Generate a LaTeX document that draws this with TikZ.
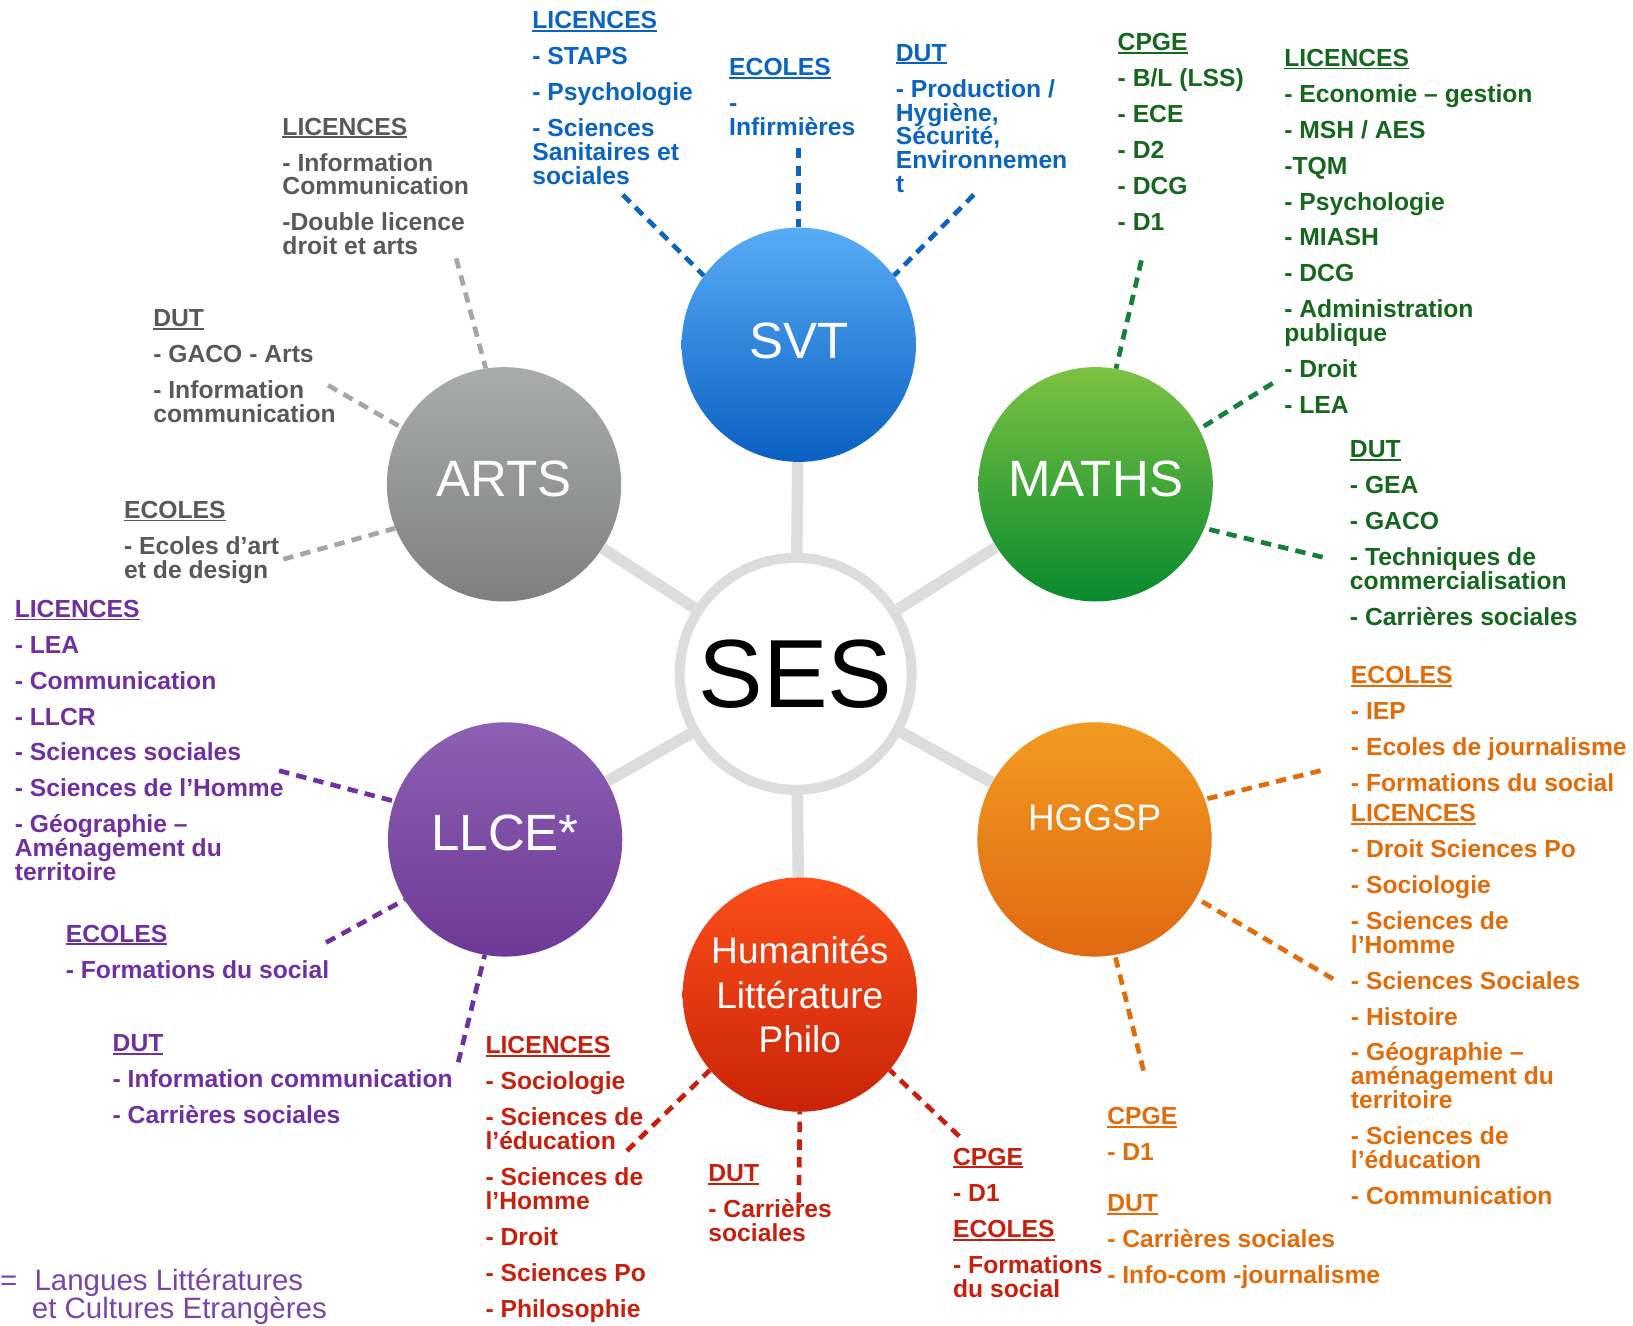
\documentclass[tikz,border=0pt]{standalone}
\usepackage{fontspec}
\setmainfont{Liberation Sans}
\definecolor{svtT}{HTML}{0A64C0}
\definecolor{svtA}{HTML}{58ACF6}
\definecolor{svtB}{HTML}{0A60C2}
\definecolor{matT}{HTML}{16671E}
\definecolor{matD}{HTML}{14803A}
\definecolor{matA}{HTML}{7CC242}
\definecolor{matB}{HTML}{078A2E}
\definecolor{artT}{HTML}{595959}
\definecolor{artD}{HTML}{A6A6A6}
\definecolor{artA}{HTML}{AAACAC}
\definecolor{artB}{HTML}{7F7F7F}
\definecolor{llcT}{HTML}{7030A0}
\definecolor{llcF}{HTML}{7A45A8}
\definecolor{llcA}{HTML}{8D60B3}
\definecolor{llcB}{HTML}{6E3996}
\definecolor{hgT}{HTML}{E36C0A}
\definecolor{hgA}{HTML}{F29B20}
\definecolor{hgB}{HTML}{E06912}
\definecolor{huT}{HTML}{C8200E}
\definecolor{huA}{HTML}{FC4E1A}
\definecolor{huB}{HTML}{C92408}
\definecolor{ringc}{HTML}{DCDDDF}
\newcommand\blkfont{\bfseries\fontsize{23.7}{23}\selectfont\lineskiplimit=-30pt\lineskip=0pt}
\newcommand\footfont{\fontsize{28.3}{27}\selectfont\lineskiplimit=-30pt\lineskip=0pt}
\newcommand\hd[1]{\setbox0\hbox{#1}\rlap{\rule[-3pt]{\wd0}{1.8pt}}\box0}
\newcommand\nx{\\[11.5pt]}
\newcommand\blk[5]{\node[blk,text=#2] (#1) at (#3,#4-13.5) {\rule{0pt}{22pt}#5};}
\tikzset{
  blk/.style={anchor=north west, inner sep=0pt, align=left, font=\blkfont},
  bub/.style={circle, minimum size=225, inner sep=0pt, text=white,
    font=\fontsize{49}{49}\selectfont},
  spoke/.style={draw=ringc, line width=11},
  dashcon/.style={line width=4.5, dash pattern=on 10pt off 7pt}
}
\begin{document}
\begin{tikzpicture}[x=1pt,y=-1pt]
\useasboundingbox[fill=white] (0,0) rectangle (1568,1273);
% central node
\node[circle, draw=ringc, line width=9.6, fill=white, minimum size=222.8, inner sep=0pt,
  font=\fontsize{93}{93}\selectfont] (ses) at (764,647) {SES};
% subject circles
\node[bub, top color=svtA, bottom color=svtB, text depth=8] (svt) at (767,331) {SVT};
\node[bub, top color=artA, bottom color=artB, text depth=10] (arts) at (484,465) {ARTS};
\node[bub, top color=matA, bottom color=matB, text depth=10] (maths) at (1052,465) {MATHS};
\node[bub, top color=llcA, bottom color=llcB, text depth=12] (llce) at (485,806) {LLCE*};
\node[bub, top color=hgA, bottom color=hgB, text depth=42,
  font=\fontsize{35.4}{35.4}\selectfont] (hggsp) at (1051,806) {HGGSP};
\node[bub, top color=huA, bottom color=huB, align=center,
  font=\fontsize{35.6}{42.5}\selectfont] (hum) at (768,955) {Humanités\\Littérature\\Philo};
% spokes
\draw[spoke] (ses) -- (svt);
\draw[spoke] (ses) -- (arts);
\draw[spoke] (ses) -- (maths);
\draw[spoke] (ses) -- (llce);
\draw[spoke] (ses) -- (hggsp);
\draw[spoke] (ses) -- (hum);
% connector free ends
\coordinate (e1) at (598,187);
\coordinate (e2) at (767,142);
\coordinate (e3) at (935,187);
\coordinate (e4) at (1096,250);
\coordinate (e5) at (1222,368);
\coordinate (e6) at (1270,535);
\coordinate (e7) at (438,248);
\coordinate (e8) at (315,370);
\coordinate (e9) at (272,537);
\coordinate (e10) at (268,740);
\coordinate (e11) at (313,905);
\coordinate (e12) at (440,1020);
\coordinate (e13) at (1268,740);
\coordinate (e14) at (1280,940);
\coordinate (e15) at (1098,1028);
\coordinate (e16) at (602,1105);
\coordinate (e17) at (767,1155);
\coordinate (e18) at (921,1091);
% dashed connectors
\draw[dashcon, svtT] (e1) -- (svt.144);
\draw[dashcon, svtT] (e2) -- (svt.90);
\draw[dashcon, svtT] (e3) -- (svt.36);
\draw[dashcon, matD] (e4) -- (maths.80);
\draw[dashcon, matD] (e5) -- (maths.28);
\draw[dashcon, matD] (e6) -- (maths.-22);
\draw[dashcon, artD] (e7) -- (arts.99);
\draw[dashcon, artD] (e8) -- (arts.151);
\draw[dashcon, artD] (e9) -- (arts.202);
\draw[dashcon, llcT] (e10) -- (llce.161);
\draw[dashcon, llcT] (e11) -- (llce.211);
\draw[dashcon, llcT] (e12) -- (llce.260);
\draw[dashcon, hgT] (e13) -- (hggsp.20);
\draw[dashcon, hgT] (e14) -- (hggsp.-30);
\draw[dashcon, hgT] (e15) -- (hggsp.-80);
\draw[dashcon, huT] (e16) -- (hum.220);
\draw[dashcon, huT] (e17) -- (hum.-90);
\draw[dashcon, huT] (e18) -- (hum.-40);
% SVT texts
\blk{svtlic}{svtT}{511}{19}{\hd{LICENCES}\nx- STAPS\nx- Psychologie\nx- Sciences\\Sanitaires et\\sociales}
\blk{svtec}{svtT}{700}{64}{\hd{ECOLES}\nx-\\Infirmières}
\blk{svtdut}{svtT}{860}{50}{\hd{DUT}\nx- Production /\\Hygiène,\\Sécurité,\\Environnemen\\t}
% MATHS texts
\blk{matcpge}{matT}{1073}{40}{\hd{CPGE}\nx- B/L (LSS)\nx- ECE\nx- D2\nx- DCG\nx- D1}
\blk{matlic}{matT}{1233}{55}{\hd{LICENCES}\nx- Economie – gestion\nx- MSH / AES\nx-TQM\nx- Psychologie\nx- MIASH\nx- DCG\nx- Administration\\publique\nx- Droit\nx- LEA}
\blk{matdut}{matT}{1296}{431}{\hd{DUT}\nx- GEA\nx- GACO\nx- Techniques de\\commercialisation\nx- Carrières sociales}
% ARTS texts
\blk{artlic}{artT}{271}{121}{\hd{LICENCES}\nx- Information\\Communication\nx-Double licence\\droit et arts}
\blk{artdut}{artT}{147}{305}{\hd{DUT}\nx- GACO - Arts\nx- Information\\communication}
\blk{artec}{artT}{119}{489}{\hd{ECOLES}\nx- Ecoles d’art\\et de design}
% LLCE texts
\blk{llclic}{llcT}{14}{584}{\hd{LICENCES}\nx- LEA\nx- Communication\nx- LLCR\nx- Sciences sociales\nx- Sciences de l’Homme\nx- Géographie –\\Aménagement du\\territoire}
\blk{llcec}{llcT}{63}{896}{\hd{ECOLES}\nx- Formations du social}
\blk{llcdut}{llcT}{108}{1001}{\hd{DUT}\nx- Information communication\nx- Carrières sociales}
% HGGSP texts
\blk{hgec}{hgT}{1297}{648}{\hd{ECOLES}\nx- IEP\nx- Ecoles de journalisme\nx- Formations du social}
\blk{hglic}{hgT}{1297}{780}{\hd{LICENCES}\nx- Droit Sciences Po\nx- Sociologie\nx- Sciences de\\l’Homme\nx- Sciences Sociales\nx- Histoire\nx- Géographie –\\aménagement du\\territoire\nx- Sciences de\\l’éducation\nx- Communication}
\blk{hgcpge}{hgT}{1063}{1071}{\hd{CPGE}\nx- D1}
\blk{hgdut}{hgT}{1063}{1155}{\hd{DUT}\nx- Carrières sociales\nx- Info-com -journalisme}
% Humanites texts
\blk{hulic}{huT}{466}{1003}{\hd{LICENCES}\nx- Sociologie\nx- Sciences de\\l’éducation\nx- Sciences de\\l’Homme\nx- Droit\nx- Sciences Po\nx- Philosophie}
\blk{hudut}{huT}{680}{1126}{\hd{DUT}\nx- Carrières\\sociales}
\blk{hucpge}{huT}{915}{1110}{\hd{CPGE}\nx- D1}
\blk{huec}{huT}{915}{1180}{\hd{ECOLES}\nx- Formations\\du social}
% footnote
\node[anchor=north west, inner sep=0pt, align=left, text=llcF, font=\footfont] (foot) at (0,1213)
  {\rule{0pt}{26pt}\makebox[33pt][l]{=}Langues Littératures\\\hspace*{30.5pt}et Cultures Etrangères};
\end{tikzpicture}
\end{document}
